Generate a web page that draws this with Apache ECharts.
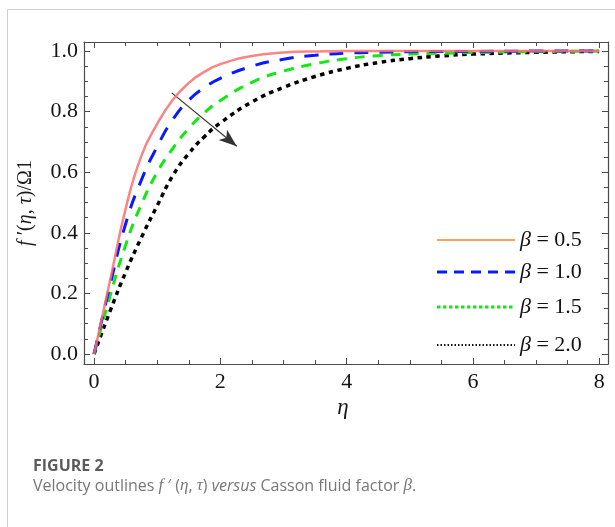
<!DOCTYPE html>
<html>
<head>
<meta charset="utf-8">
<script src="https://cdn.jsdelivr.net/npm/echarts@6/dist/echarts.min.js"></script>
<style>
html,body{margin:0;padding:0;background:#fff;}
#chart{width:615px;height:527px;}
</style>
</head>
<body>
<div id="chart"></div>
<script>
// ---- data ----
var eta = [0, 0.25, 0.5, 0.75, 1, 1.25, 1.5, 1.75, 2, 2.5, 3, 3.5, 4, 4.5, 5, 5.5, 6, 7, 8];
var beta05 = [0, 0.24, 0.48, 0.655, 0.76, 0.84, 0.895, 0.932, 0.957, 0.984, 0.995, 0.999, 1, 1, 1, 1, 1, 1, 1];
var beta10 = [0, 0.225, 0.43, 0.575, 0.685, 0.775, 0.838, 0.88, 0.91, 0.95, 0.973, 0.986, 0.993, 0.996, 0.998, 0.999, 0.999, 1, 1];
var beta15 = [0, 0.19, 0.36, 0.495, 0.6, 0.68, 0.745, 0.797, 0.837, 0.897, 0.934, 0.958, 0.975, 0.985, 0.99, 0.993, 0.995, 0.998, 1];
var beta20 = [0, 0.14, 0.27, 0.385, 0.49, 0.59, 0.662, 0.718, 0.763, 0.832, 0.88, 0.916, 0.943, 0.962, 0.975, 0.984, 0.99, 0.996, 0.999];
var legendNames = ['\u03b2 = 0.5', '\u03b2 = 1.0', '\u03b2 = 1.5', '\u03b2 = 2.0'];
var xMajor = [0, 2, 4, 6, 8];
var xMinor = [0.5, 1, 1.5, 2.5, 3, 3.5, 4.5, 5, 5.5, 6.5, 7, 7.5];
var yMajor = [0, 0.2, 0.4, 0.6, 0.8, 1.0];
var yMinor = [0.05, 0.1, 0.15, 0.25, 0.3, 0.35, 0.45, 0.5, 0.55, 0.65, 0.7, 0.75, 0.85, 0.9, 0.95];
var arrowFrom = [1.23, 0.862];
var arrowTo = [2.26, 0.686];

function pairs(ys) { return eta.map(function (x, i) { return [x, ys[i]]; }); }

var serif = '"Liberation Serif","Times New Roman",serif';
var sans = '"Open Sans","Noto Sans",sans-serif';
var axisColor = '#4a4a4a';
var xMin = -0.16, xMax = 8.14, yMin = -0.033, yMax = 1.03;

function xAx(pos, major, showLine, showLabel) {
  return {
    type: 'value', position: pos, min: xMin, max: xMax,
    axisLine: { show: showLine, onZero: false, lineStyle: { color: axisColor, width: 1.2 } },
    axisTick: { show: true, inside: true, length: major ? 6 : 4, customValues: major ? xMajor : xMinor,
      lineStyle: { color: axisColor, width: 1 } },
    axisLabel: { show: showLabel, customValues: xMajor, fontFamily: serif, fontSize: 22, color: '#151515', margin: 7,
      formatter: function (v) { return String(v); } },
    splitLine: { show: false }
  };
}
function yAx(pos, major, showLine, showLabel) {
  return {
    type: 'value', position: pos, min: yMin, max: yMax,
    axisLine: { show: showLine, onZero: false, lineStyle: { color: axisColor, width: 1.2 } },
    axisTick: { show: true, inside: true, length: major ? 6 : 4, customValues: major ? yMajor : yMinor,
      lineStyle: { color: axisColor, width: 1 } },
    axisLabel: { show: showLabel, customValues: yMajor, fontFamily: serif, fontSize: 22, color: '#151515', margin: 6,
      formatter: function (v) { return v.toFixed(1); } },
    splitLine: { show: false }
  };
}

var chart = echarts.init(document.getElementById('chart'), null, { renderer: 'canvas' });

var lx1 = 437, lx2 = 515, ltx = 520;
var legRows = [240, 272, 307, 345];
var legStyles = [
  { stroke: '#f5a35c', lineWidth: 2, lineDash: null },
  { stroke: '#0a1aff', lineWidth: 3, lineDash: [10, 7] },
  { stroke: '#12e812', lineWidth: 3, lineDash: [3.5, 2.5] },
  { stroke: '#111', lineWidth: 2, lineDash: [1.5, 2] }
];
var legendGraphics = [];
legendNames.forEach(function (nm, i) {
  var st = { stroke: legStyles[i].stroke, lineWidth: legStyles[i].lineWidth };
  if (legStyles[i].lineDash) st.lineDash = legStyles[i].lineDash;
  legendGraphics.push({ type: 'line', shape: { x1: lx1, y1: legRows[i], x2: lx2, y2: legRows[i] }, style: st, z: 10 });
  legendGraphics.push({ type: 'text', x: ltx, y: legRows[i], style: {
    text: '{i|\u03b2} = ' + nm.split('= ')[1], fontFamily: serif, fontSize: 22, fill: '#111', verticalAlign: 'middle',
    rich: { i: { fontStyle: 'italic', fontFamily: serif, fontSize: 22, fill: '#111' } } }, z: 10 });
});

var option = {
  animation: false,
  backgroundColor: '#fff',
  grid: { left: 84, top: 42, right: 7, bottom: 163, containLabel: false },
  xAxis: [ xAx('bottom', true, true, true), xAx('bottom', false, false, false),
           xAx('top', true, true, false), xAx('top', false, false, false) ],
  yAxis: [ yAx('left', true, true, true), yAx('left', false, false, false),
           yAx('right', true, true, false), yAx('right', false, false, false) ],
  series: [
    { name: legendNames[0], type: 'line', data: pairs(beta05), showSymbol: false, smooth: 0.5,
      lineStyle: { color: 'rgba(250,110,110,0.85)', width: 2.5 }, z: 5 },
    { name: legendNames[1], type: 'line', data: pairs(beta10), showSymbol: false, smooth: 0.5,
      lineStyle: { color: '#0a1aff', width: 3, type: [14, 11] }, z: 4 },
    { name: legendNames[2], type: 'line', data: pairs(beta15), showSymbol: false, smooth: 0.5,
      lineStyle: { color: '#12e812', width: 3, type: [10, 8] }, z: 3 },
    { name: legendNames[3], type: 'line', data: pairs(beta20), showSymbol: false, smooth: 0.5,
      lineStyle: { color: '#000', width: 3.5, type: [4.5, 4.5] }, z: 2,
      markLine: { silent: true, symbol: ['none', 'arrow'], symbolSize: [10, 18],
        lineStyle: { color: '#333', width: 1.2, type: 'solid' }, label: { show: false },
        data: [[{ coord: arrowFrom, symbol: 'none' }, { coord: arrowTo, symbol: 'arrow' }]] } }
  ],
  graphic: [
    { type: 'line', shape: { x1: 7.5, y1: 9.5, x2: 615, y2: 9.5 }, style: { stroke: '#cfcfcf', lineWidth: 1 } },
    { type: 'line', shape: { x1: 7.5, y1: 9.5, x2: 7.5, y2: 527 }, style: { stroke: '#cfcfcf', lineWidth: 1 } },
    { type: 'text', x: 26, y: 203, rotation: Math.PI / 2, style: {
      text: '{i|f} \u2032({i|\u03b7}, {i|\u03c4})/\u03a91', fontFamily: serif, fontSize: 20, fill: '#1a1a1a',
      align: 'center', verticalAlign: 'middle',
      rich: { i: { fontStyle: 'italic', fontFamily: serif, fontSize: 20, fill: '#1a1a1a' } } } },
    { type: 'text', x: 343, y: 408, style: { text: '\u03b7', fontFamily: serif, fontStyle: 'italic', fontSize: 23,
      fill: '#1a1a1a', align: 'center', verticalAlign: 'middle' } },
    { type: 'text', x: 33, y: 466, style: { text: 'FIGURE 2', fontFamily: sans,
      fontWeight: 'bold', fontSize: 16, fill: '#5c5c5c', verticalAlign: 'middle' } },
    { type: 'text', x: 33, y: 486, style: {
      text: 'Velocity outlines {m|f} \u2032 ({m|\u03b7}, {m|\u03c4}) {s|versus} Casson fluid factor {m|\u03b2}.',
      fontFamily: sans, fontSize: 16, fill: '#777', verticalAlign: 'middle',
      rich: { m: { fontFamily: serif, fontStyle: 'italic', fontSize: 17, fill: '#777' },
              s: { fontFamily: sans, fontStyle: 'italic', fontSize: 16, fill: '#777' } } } }
  ].concat(legendGraphics)
};
chart.setOption(option);
</script>
</body>
</html>
